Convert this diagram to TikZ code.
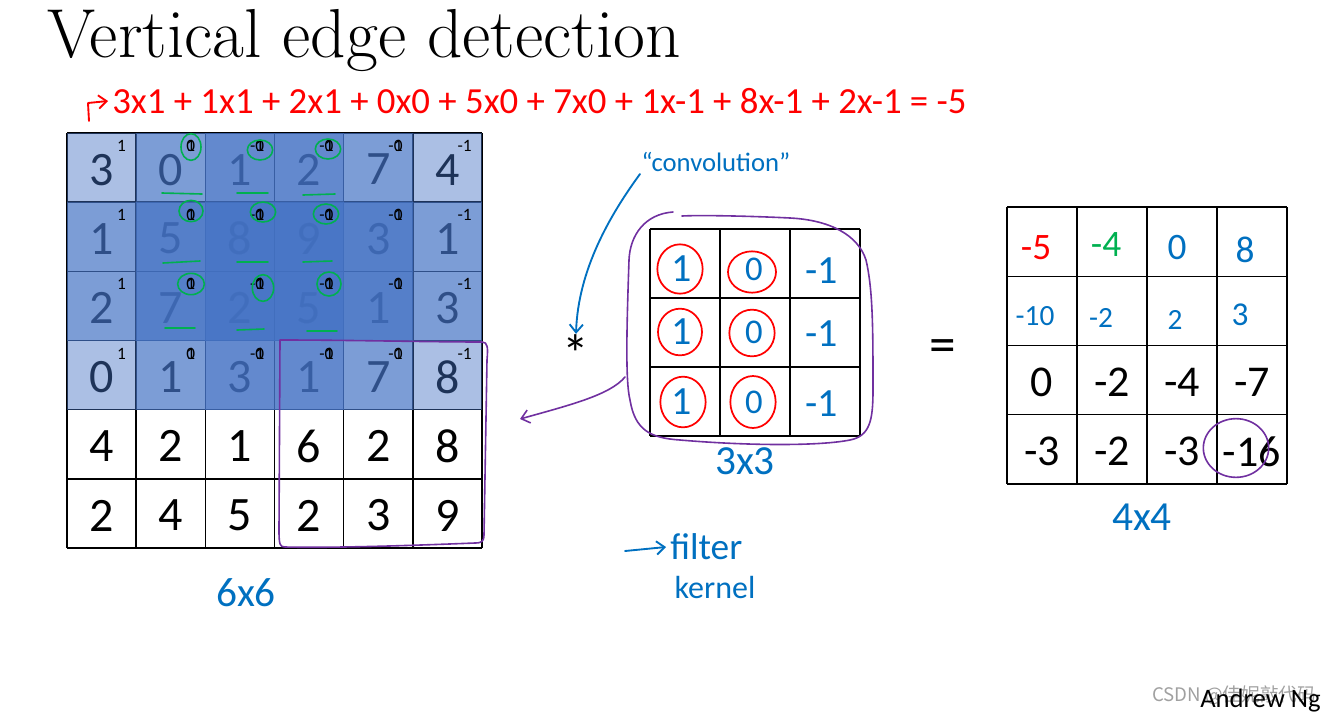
\documentclass[tikz,border=0pt]{standalone}
\usepackage{fontspec}
\usetikzlibrary{arrows.meta}
\newfontfamily\calfont{Carlito}
\newfontfamily\cjkfont{Noto Sans CJK SC}
\definecolor{winblue}{RGB}{68,114,196}
\definecolor{hblue}{RGB}{0,112,192}
\definecolor{hred}{RGB}{255,0,0}
\definecolor{hgreen}{RGB}{0,176,80}
\definecolor{hpurple}{RGB}{112,48,160}
\definecolor{wmgrey}{RGB}{160,160,160}
\tikzset{
  gridline/.style={line width=1.1pt, draw=black},
  bignum/.style={font=\calfont\fontsize{36}{36}\selectfont, text=black, inner sep=0pt},
  supnum/.style={font=\calfont\fontsize{13}{13}\selectfont, text=black, inner sep=0pt, anchor=east},
  window/.style={fill=winblue, fill opacity=0.45, draw=none},
  pen/.style={line width=1.4pt, line cap=round, line join=round},
  hand/.style={font=\calfont\fontsize{22}{22}\selectfont, inner sep=0pt},
  dimlabel/.style={font=\calfont\fontsize{31}{31}\selectfont, inner sep=0pt, text=hblue},
  outnum/.style={font=\calfont\fontsize{33}{33}\selectfont, text=black, inner sep=0pt},
  barb/.style={-{Straight Barb[length=6pt,width=10pt]}}
}
\begin{document}
\begin{tikzpicture}[x=0.75pt,y=-0.75pt]
\useasboundingbox (0,0) rectangle (1339,715);
% title
\node[anchor=base west, inner sep=0pt, font=\fontsize{52}{52}\selectfont] (title) at (47,57) {Vertical edge detection};
% red equation
\node[anchor=west, inner sep=0pt, text=hred, font=\calfont\fontsize{27.6}{27.6}\selectfont] (eq) at (112,101) {3x1 + 1x1 + 2x1 + 0x0 + 5x0 + 7x0 + 1x-1 + 8x-1 + 2x-1 = -5};
\coordinate (eqs) at (89,121);
\draw[pen, hred, barb] (eqs) -- (88,103) -- ([xshift=-3pt]eq.west);
% left grid numbers
\foreach \row [count=\r from 0] in {{3,0,1,2,7,4},{1,5,8,9,3,1},{2,7,2,5,1,3},{0,1,3,1,7,8},{4,2,1,6,2,8},{2,4,5,2,3,9}}{
  \foreach \v [count=\c from 0] in \row {
    \node[bignum] (L-\r-\c) at ({67+69.17*(\c+0.5)},{133+69.17*(\r+0.5)+2}) {\v};
  }
}
% left grid lines
\foreach \i in {0,...,6}{
  \draw[gridline] ({67+69.17*\i},133) -- ({67+69.17*\i},548);
  \draw[gridline] (67,{133+69.17*\i}) -- (482,{133+69.17*\i});
}
% overlay windows
\foreach \i in {0,1}{
  \foreach \j in {0,...,3}{
    \fill[window] ({67+69.17*\j},{133+69.17*\i}) rectangle ({67+69.17*(\j+3)},{133+69.17*(\i+3)});
  }
}
% superscript filter values
\foreach \vals [count=\c from 0] in {{1},{1,0},{1,0,-1},{1,0,-1},{0,-1},{-1}}{
  \foreach \r in {0,...,3}{
    \foreach \v [count=\k] in \vals {
      \node[supnum] (S-\r-\c-\k) at ({67+69.17*(\c+1)-10},{133+69.17*\r+13}) {\v};
    }
  }
}
% green annotations
\begin{scope}[pen, hgreen, line width=1.2pt]
\draw (191,147) ellipse [x radius=7.5pt, y radius=10pt];
\draw (260,150) ellipse [x radius=9.5pt, y radius=7.5pt];
\draw (328,149) ellipse [x radius=9.5pt, y radius=7.5pt];
\draw (191,211) ellipse [x radius=9pt, y radius=8pt];
\draw (263,212) ellipse [x radius=9.5pt, y radius=7.5pt];
\draw (326,214) ellipse [x radius=9.5pt, y radius=7.5pt];
\draw (191,284) ellipse [x radius=10pt, y radius=8pt];
\draw (263,288) ellipse [x radius=8pt, y radius=10pt];
\draw (329,284) ellipse [x radius=9pt, y radius=9pt];
\draw (162,193) -- (202,194);
\draw (237,193) -- (268,193);
\draw (303,195) -- (335,194);
\draw (163,263) -- (200,261);
\draw (237,262) -- (268,262);
\draw (303,262) -- (332,261);
\draw (165,328) -- (195,328);
\draw (237,330) -- (264,329);
\draw (307,331) -- (337,331);
\end{scope}
% purple box on left grid
\draw[pen, hpurple, line width=1.2pt] (280,340) .. controls (350,340) and (430,342) .. (482,342) .. controls (488,342) and (488,348) .. (487,360) -- (484,535) .. controls (484,541) and (482,543) .. (475,543) .. controls (400,546) and (330,548) .. (285,547) .. controls (280,547) and (279,545) .. (279,530) -- (280,340);
% size label
\node[dimlabel] (six) at (246,593) {6x6};
% operator
\node[inner sep=0pt, anchor=base, font=\calfont\fontsize{40}{40}\selectfont] (star) at (576,372) {*};
\node[inner sep=0pt, text=hblue, font=\calfont\fontsize{20}{20}\selectfont] (conv) at (716,162) {“convolution”};
\coordinate (convs) at (640,174);
\draw[pen, hblue, barb] (convs) .. controls (610,215) and (578,270) .. (star.north);
% filter grid
\foreach \i in {0,...,3}{
  \draw[gridline] ({650+70*\i},229) -- ({650+70*\i},436);
  \draw[gridline] (650,{229+69*\i}) -- (860,{229+69*\i});
}
\begin{scope}[pen, hred, line width=1.3pt]
\draw (680,269) ellipse [x radius=17pt, y radius=18.5pt];
\draw (680,332) ellipse [x radius=16.5pt, y radius=17.5pt];
\draw (683,402) ellipse [x radius=17pt, y radius=19pt];
\draw (752,272) ellipse [x radius=18pt, y radius=15.5pt];
\draw (752,333) ellipse [x radius=17pt, y radius=17.5pt];
\draw (753,402) ellipse [x radius=17pt, y radius=19.5pt];
\end{scope}
\foreach \y [count=\r from 0] in {269,332,402}{
  \node[inner sep=0pt, text=hblue, font=\calfont\fontsize{30}{30}\selectfont] (F-\r-0) at (682,\y) {1};
  \node[inner sep=0pt, text=hblue, font=\calfont\fontsize{26}{26}\selectfont] (F-\r-1) at (754,\y) {0};
  \node[inner sep=0pt, text=hblue, font=\calfont\fontsize{30}{30}\selectfont] (F-\r-2) at (822,\y+2) {-1};
}
% purple loop around filter
\draw[pen, hpurple, line width=1.2pt] (673,212) .. controls (645,214) and (630,235) .. (629,260) .. controls (627,320) and (625,380) .. (630,400) .. controls (635,430) and (650,438) .. (680,440) .. controls (750,446) and (820,446) .. (850,440) .. controls (870,436) and (873,420) .. (873,390) .. controls (873,330) and (873,290) .. (866,260) .. controls (858,235) and (830,220) .. (790,218) .. controls (750,216) and (700,215) .. (682,216);
\coordinate (parrs) at (625,377);
\coordinate (parre) at (520,419);
\draw[pen, hpurple, line width=1.2pt, barb] (parrs) .. controls (610,395) and (570,405) .. (parre);
\node[dimlabel] (three) at (745,461) {3x3};
% filter kernel note
\node[hand, text=hblue, anchor=west, font=\calfont\fontsize{28}{28}\selectfont] (filt) at (670,547) {filter};
\node[hand, text=hblue, font=\calfont\fontsize{24}{24}\selectfont] (kern) at (715,587) {kernel};
\coordinate (fa) at (625,551);
\draw[pen, hblue, barb] (fa) -- ([xshift=-3pt]filt.west);
% equals
\node[inner sep=0pt, anchor=base, font=\calfont\fontsize{40}{40}\selectfont] (eqsign) at (943,362) {=};
% output grid
\foreach \i in {0,...,4}{
  \draw[gridline] ({1007+70*\i},207) -- ({1007+70*\i},484);
  \draw[gridline] (1007,{207+69.25*\i}) -- (1287,{207+69.25*\i});
}
\node[inner sep=0pt, text=hred, font=\calfont\fontsize{28}{28}\selectfont] (O-0-0) at (1036,248) {-5};
\node[inner sep=0pt, text=hgreen, font=\calfont\fontsize{28}{28}\selectfont] (O-0-1) at (1106,245) {-4};
\node[inner sep=0pt, text=hblue, font=\calfont\fontsize{28}{28}\selectfont] (O-0-2) at (1177,248) {0};
\node[inner sep=0pt, text=hblue, font=\calfont\fontsize{28}{28}\selectfont] (O-0-3) at (1245,250) {8};
\node[inner sep=0pt, text=hblue, font=\calfont\fontsize{22}{22}\selectfont] (O-1-0) at (1035,316) {-10};
\node[inner sep=0pt, text=hblue, font=\calfont\fontsize{22}{22}\selectfont] (O-1-1) at (1101,318) {-2};
\node[inner sep=0pt, text=hblue, font=\calfont\fontsize{22}{22}\selectfont] (O-1-2) at (1175,320) {2};
\node[inner sep=0pt, text=hblue, font=\calfont\fontsize{25}{25}\selectfont] (O-1-3) at (1240,315) {3};
\foreach \row [count=\r from 2] in {{0,-2,-4,-7},{-3,-2,-3,-16}}{
  \foreach \v [count=\c from 0] in \row {
    \node[outnum] (O-\r-\c) at ({1007+70*(\c+0.5)},{207+69.25*(\r+0.5)+2}) {\v};
  }
}
\draw[pen, hpurple, line width=1.2pt] (1236,448) ellipse [x radius=24.5pt, y radius=22pt];
\node[dimlabel] (four) at (1142,517) {4x4};
% footer
\node[anchor=base west, inner sep=0pt, text=wmgrey, font=\cjkfont\fontsize{14}{14}\selectfont] (wm) at (1152,701) {CSDN @佳妮敲代码};
\node[anchor=base west, inner sep=0pt, font=\calfont\fontsize{20}{20}\selectfont] (andrew) at (1200,707) {Andrew Ng};
\end{tikzpicture}
\end{document}
